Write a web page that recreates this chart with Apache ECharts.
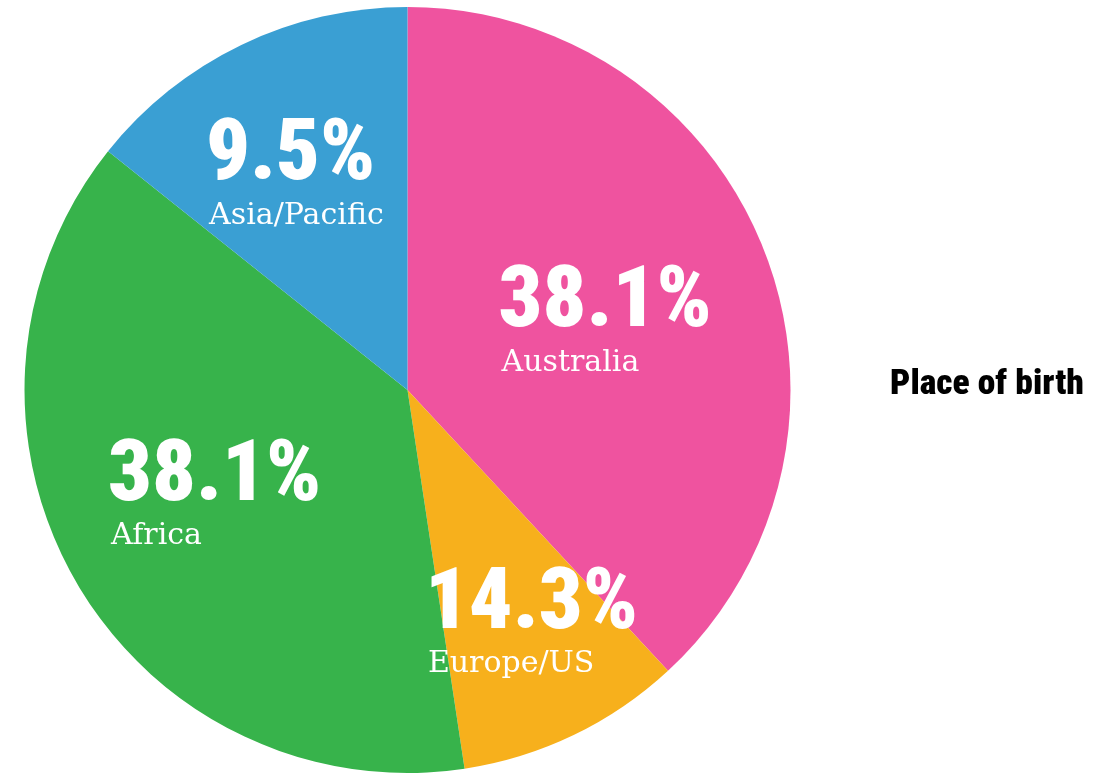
<!DOCTYPE html>
<html>
<head>
<meta charset="utf-8">
<script src="https://cdn.jsdelivr.net/npm/echarts@6/dist/echarts.min.js"></script>
<style>
  html, body { margin: 0; padding: 0; background: #fff; }
  #chart { width: 1111px; height: 775px; }
</style>
</head>
<body>
<div id="chart"></div>
<script>
const places = ['Australia', 'Europe/US', 'Africa', 'Asia/Pacific'];
// slice sizes as drawn in the picture
const counts = [8, 2, 8, 3];
// shares as printed on the slices
const shares = ['38.1%', '14.3%', '38.1%', '9.5%'];
const colors = ['#EF539F', '#F7B01C', '#37B34B', '#3A9FD3'];

// label nudges from the default inside anchor (top-left of text block)
const nudge = [[-90, -57], [-67, -2], [-131, -52], [-117, -100]];

const bigFont = '"Roboto Condensed", "Liberation Sans Narrow", "Arial Narrow", Roboto, sans-serif';

const chart = echarts.init(document.getElementById('chart'));

chart.setOption({
  animation: false,
  title: {
    text: 'Place of birth',
    left: 885,
    top: 362,
    textStyle: {
      fontFamily: bigFont,
      fontWeight: 900,
      fontSize: 35.5,
      color: '#000'
    }
  },
  series: [{
    type: 'pie',
    center: [407.5, 390],
    radius: 383,
    startAngle: 90,
    clockwise: true,
    silent: true,
    data: places.map((name, i) => ({
      name,
      value: counts[i],
      itemStyle: { color: colors[i] }
    })),
    itemStyle: { borderWidth: 0 },
    label: {
      show: true,
      position: 'inside',
      color: '#fff',
      formatter: (p) => '{p|' + shares[p.dataIndex] + '}\n{n|' + p.name + '}',
      rich: {
        p: {
          fontFamily: bigFont,
          fontWeight: 900,
          fontSize: 86,
          lineHeight: 86,
          color: '#fff'
        },
        n: {
          fontFamily: '"DejaVu Serif", serif',
          fontSize: 30,
          lineHeight: 30,
          padding: [0, 0, 0, 3],
          color: '#fff'
        }
      }
    },
    labelLine: { show: false },
    labelLayout: function (params) {
      const d = nudge[params.dataIndex];
      return { dx: d[0], dy: d[1], align: 'left', verticalAlign: 'top' };
    }
  }]
});
</script>
</body>
</html>
